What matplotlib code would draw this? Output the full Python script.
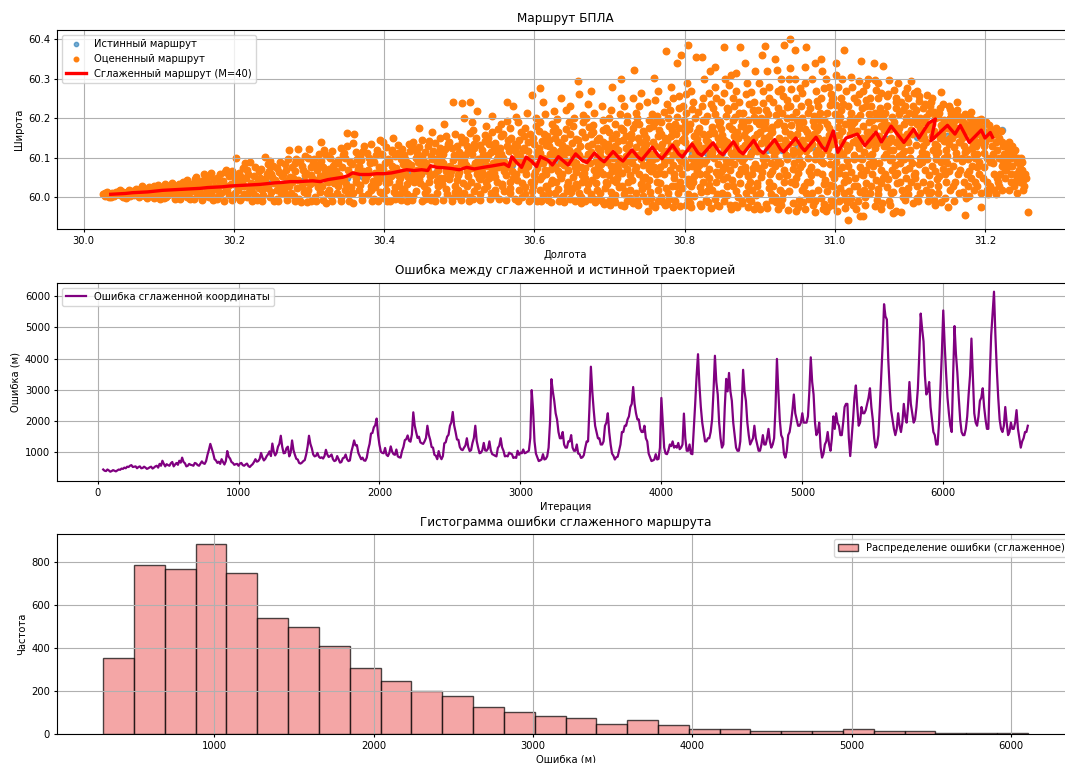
import numpy as np
import matplotlib
matplotlib.use('Agg')
import matplotlib.pyplot as plt

plt.rcParams.update({
    'font.size': 7.2,
    'xtick.major.size': 2.5, 'ytick.major.size': 2.5,
    'xtick.major.pad': 2.5, 'ytick.major.pad': 2.5,
    'axes.labelpad': 2.9,
})

# --- оценённый маршрут: (долгота-30, широта-60) в тысячных долях градуса ---
estimated_pts = [
    (26,9),(28,4),(31,13),(33,7),(29,11),(34,2),
    (36,6),(38,12),(41,3),(43,15),(44,9),(37,1),
    (46,10),(47,17),(49,5),(52,13),(53,1),(48,19),
    (56,8),(58,14),(61,20),(62,3),(64,11),(57,-1),
    (66,16),(67,6),(69,22),(71,11),(73,0),(74,18),
    (76,9),(78,24),(79,14),(81,3),(83,19),(84,-2),(77,28),
    (86,13),(87,26),(89,5),(92,18),(93,-1),(94,30),(88,9),
    (96,20),(97,4),(99,31),(101,12),(102,-3),(103,25),(104,16),(98,8),
    (106,22),(107,-2),(108,34),(111,14),(112,6),(113,28),(114,18),(109,0),
    (116,26),(117,9),(118,37),(121,-4),(122,17),(123,30),(124,3),(119,21),
    (126,14),(127,33),(128,-3),(131,24),(132,40),(133,8),(134,19),(129,29),
    (136,27),(137,2),(138,44),(141,15),(142,-5),(143,35),(144,22),(139,10),
    (146,31),(147,-4),(148,46),(151,19),(152,6),(153,38),(154,25),(149,13),(150,52),
    (156,12),(157,42),(158,-6),(161,28),(162,50),(163,4),(164,20),(159,34),(160,58),
    (166,36),(167,1),(168,55),(171,18),(172,-7),(173,45),(174,26),(169,9),(170,62),
    (176,22),(177,48),(178,-5),(181,33),(182,60),(183,11),(184,40),(179,3),(180,28),
    (186,42),(187,-8),(188,65),(191,16),(192,30),(193,53),(194,6),(189,24),(190,70),
    (196,35),(197,-6),(198,68),(201,12),(202,46),(203,100),(204,26),(199,57),(200,2),(205,38),
    (206,19),(207,62),(208,-7),(211,41),(212,75),(213,8),(214,30),(209,52),(210,-1),(215,86),
    (216,48),(217,0),(218,70),(221,22),(222,89),(223,36),(224,-8),(219,58),(220,14),(225,30),
    (226,10),(227,55),(228,78),(231,-6),(232,42),(233,25),(234,66),(229,4),(230,33),(235,50),
    (236,72),(237,18),(238,-9),(241,47),(242,103),(243,30),(244,60),(239,7),(240,38),(245,84),
    (246,24),(247,66),(248,2),(251,52),(252,80),(253,-8),(254,36),(249,15),(250,58),(255,44),(248,92),
    (256,40),(257,-5),(258,74),(261,28),(262,90),(263,10),(264,55),(259,-10),(260,64),(265,34),(258,18),
    (266,60),(267,20),(268,84),(271,-7),(272,45),(273,120),(274,30),(269,70),(270,5),(275,52),(272,96),
    (276,12),(277,78),(278,38),(281,-9),(282,66),(283,98),(284,25),(279,50),(280,3),(285,123),(281,86),
    (286,44),(287,-4),(288,92),(291,30),(292,70),(293,14),(294,56),(289,-11),(290,80),(295,38),(294,104),
    (296,62),(297,8),(298,100),(301,34),(302,-8),(303,76),(304,48),(299,20),(300,123),(305,88),(302,56),(297,-12),
    (306,40),(307,96),(308,2),(311,70),(312,26),(313,110),(314,54),(309,-10),(310,82),(315,14),(312,44),(316,141),
    (316,92),(317,30),(318,-6),(321,64),(322,108),(323,46),(324,10),(319,78),(320,120),(325,38),(322,-13),(318,55),
    (326,20),(327,72),(328,100),(331,-9),(332,58),(333,36),(334,88),(329,4),(330,118),(335,48),(332,80),(328,62),
    (336,66),(337,12),(338,94),(341,42),(342,-10),(343,126),(344,78),(339,28),(340,56),(345,106),(342,2),(338,86),
    (346,46),(347,112),(348,18),(351,162),(352,70),(353,-8),(354,90),(349,34),(350,130),(355,58),(352,8),(348,100),
    (356,26),(357,84),(358,-14),(361,60),(362,116),(363,40),(364,98),(359,10),(360,160),(365,72),(362,50),(358,138),
    (366,80),(367,20),(368,104),(371,-6),(372,66),(373,130),(374,44),(369,94),(370,4),(375,56),(372,118),(368,32),
    (376,52),(377,112),(378,8),(381,86),(382,136),(383,30),(384,-9),(379,70),(380,100),(385,42),(382,18),(378,60),
    (386,90),(387,-4),(388,62),(391,120),(392,38),(393,78),(394,14),(389,106),(390,50),(395,144),(392,-10),(388,26),
    (396,64),(397,110),(398,6),(401,86),(402,36),(403,128),(404,-8),(399,72),(400,48),(405,98),(402,20),(398,140),(404,58),(400,-2),
    (406,40),(407,92),(408,-10),(411,120),(412,68),(413,14),(414,104),(409,54),(410,80),(415,26),(412,150),(408,62),(414,-4),(410,114),
    (416,74),(417,2),(418,132),(421,48),(422,96),(423,-7),(424,64),(419,112),(420,30),(425,84),(422,10),(418,56),(424,122),(420,40),
    (426,22),(427,108),(428,60),(431,-9),(432,88),(433,136),(434,44),(429,74),(430,8),(435,118),(432,52),(428,96),(434,-2),(430,34),
    (436,82),(437,-6),(438,124),(441,56),(442,100),(443,16),(444,70),(439,140),(440,38),(445,90),(446,175),(438,4),(444,112),(440,62),
    (446,46),(447,128),(448,72),(451,-8),(452,94),(453,28),(454,114),(449,60),(450,146),(455,10),(452,80),(448,36),(454,-3),(450,104),
    (456,88),(457,18),(458,130),(461,54),(462,104),(463,-6),(464,165),(459,76),(460,40),(465,118),(462,2),(458,66),(464,96),(460,142),
    (466,60),(467,-4),(468,138),(471,84),(472,30),(473,112),(474,50),(469,96),(470,12),(475,150),(472,70),(468,-9),(474,124),(470,42),
    (476,100),(477,34),(478,-7),(481,122),(482,68),(483,154),(484,8),(479,86),(480,50),(485,134),(482,22),(478,110),(484,76),(480,185),
    (486,46),(487,140),(488,80),(491,-2),(492,240),(493,106),(494,28),(489,66),(490,126),(495,14),(492,94),(488,56),(494,160),(490,-9),
    (496,74),(497,130),(498,20),(501,100),(502,-6),(503,152),(504,238),(499,56),(500,116),(505,36),(502,86),(498,4),(504,140),(500,64),(506,108),(497,44),
    (506,92),(507,12),(508,144),(511,68),(512,118),(513,-8),(514,242),(509,82),(510,30),(515,162),(512,54),(508,104),(514,2),(510,130),(516,74),(507,200),
    (516,40),(517,110),(518,-4),(521,88),(522,150),(523,218),(524,60),(519,124),(520,16),(525,98),(522,72),(518,170),(524,28),(520,136),(526,50),(517,190),
    (526,84),(527,-7),(528,132),(531,56),(532,106),(533,22),(534,158),(529,74),(530,120),(535,38),(532,94),(528,8),(534,142),(530,64),(536,180),(527,46),
    (536,98),(537,30),(538,150),(541,-5),(542,116),(543,70),(544,205),(539,134),(540,48),(545,88),(542,12),(538,106),(544,166),(540,58),(546,128),(537,80),
    (546,62),(547,138),(548,20),(551,102),(552,172),(553,-3),(554,84),(549,118),(550,40),(555,154),(552,76),(548,6),(554,126),(550,96),(556,185),(547,52),
    (556,110),(557,34),(558,160),(561,74),(562,-6),(563,242),(564,130),(559,90),(560,16),(565,146),(562,56),(558,100),(564,192),(560,66),(566,118),(557,28),
    (566,82),(567,176),(568,10),(571,124),(572,48),(573,98),(574,-4),(569,150),(570,66),(575,114),(572,230),(568,38),(574,136),(570,88),(576,204),(567,24),
    (576,58),(577,130),(578,-9),(581,104),(582,166),(583,36),(584,88),(579,146),(580,18),(585,120),(582,72),(578,190),(584,2),(580,96),(586,156),(577,44),
    (586,126),(587,26),(588,176),(591,80),(592,140),(593,-10),(594,100),(589,60),(590,214),(595,40),(592,118),(588,8),(594,160),(590,90),(597,259),(587,70),
    (596,92),(597,16),(598,150),(601,64),(602,180),(603,-8),(604,116),(599,40),(600,136),(605,84),(602,200),(598,28),(604,104),(600,56),(606,168),(597,-2),(608,276),(603,74),
    (606,124),(607,46),(608,190),(611,6),(612,100),(613,160),(614,70),(609,-10),(610,142),(615,30),(612,86),(608,112),(614,210),(610,54),(616,132),(607,18),(612,240),(615,96),
    (616,60),(617,154),(618,-6),(621,110),(622,36),(623,186),(624,84),(619,130),(620,12),(625,168),(622,72),(618,96),(624,44),(620,144),(626,218),(617,24),(622,-12),(625,120),
    (626,100),(627,10),(628,176),(631,66),(632,140),(633,-8),(634,118),(629,40),(630,198),(635,86),(632,22),(628,150),(634,56),(630,108),(636,250),(627,78),(632,164),(635,-2),
    (636,48),(637,132),(638,4),(641,94),(642,172),(643,30),(644,114),(639,-12),(640,150),(645,70),(642,222),(638,104),(644,16),(640,82),(646,190),(637,60),(642,126),(645,38),
    (646,120),(647,-4),(648,160),(651,52),(652,100),(653,200),(654,76),(649,14),(650,138),(655,34),(652,180),(648,90),(654,-10),(650,112),(656,64),(647,230),(652,24),(655,148),
    (656,86),(657,28),(658,293),(661,130),(662,-14),(663,166),(664,56),(659,106),(660,12),(665,190),(662,76),(658,144),(664,40),(660,260),(666,96),(657,118),(662,0),(665,208),
    (666,62),(667,152),(668,-8),(671,110),(672,34),(673,178),(674,88),(669,200),(670,20),(675,270),(672,130),(668,48),(674,-3),(670,96),(676,160),(667,74),(672,236),(675,8),
    (676,116),(677,44),(678,184),(681,-12),(682,92),(683,146),(684,20),(679,70),(680,214),(685,126),(682,56),(678,164),(684,100),(680,-4),(686,-3),(677,136),(682,36),(685,82),
    (686,150),(687,10),(688,104),(691,196),(692,60),(693,-16),(694,130),(689,84),(690,232),(695,40),(692,170),(688,118),(694,24),(690,-9),(696,96),(687,66),(692,140),(699,-9),
    (696,176),(697,34),(698,118),(701,-18),(702,80),(703,150),(704,280),(699,56),(700,200),(705,100),(702,14),(698,136),(704,66),(700,166),(706,-4),(697,90),(702,222),(705,44),(699,124),(703,2),
    (706,108),(707,-12),(708,186),(711,72),(712,142),(713,26),(714,96),(709,160),(710,48),(715,250),(712,120),(708,6),(714,210),(710,82),(716,-20),(707,130),(712,60),(715,176),(709,38),(713,100),
    (716,300),(717,62),(718,146),(721,16),(722,104),(723,190),(724,-10),(719,84),(720,230),(725,40),(722,126),(718,170),(724,72),(720,-22),(726,114),(717,28),(722,156),(725,92),(719,8),(723,206),
    (726,134),(727,20),(728,96),(731,176),(732,-14),(733,323),(734,70),(729,150),(730,44),(735,214),(732,110),(728,-2),(734,186),(730,86),(736,128),(727,56),(732,250),(735,10),(729,160),(733,102),
    (736,78),(737,200),(738,-18),(741,140),(742,34),(743,118),(744,168),(739,60),(740,232),(745,4),(742,96),(738,150),(744,46),(740,186),(746,124),(737,-6),(742,264),(745,82),(739,106),(743,22),
    (746,160),(747,52),(748,112),(751,-35),(752,196),(753,88),(754,14),(749,136),(750,240),(755,66),(752,176),(748,-10),(754,100),(750,30),(756,210),(747,122),(752,72),(755,-2),(749,150),(753,44),
    (756,94),(757,-20),(758,180),(759,302),(760,-24),(761,130),(762,58),(763,206),(764,20),(765,154),(757,110),(759,76),(761,246),(763,40),(765,-8),(758,140),(760,190),(762,100),(764,268),(766,62),
    (766,170),(767,36),(768,124),(771,-12),(772,216),(773,84),(774,150),(769,2),(770,104),(775,369),(772,58),(768,190),(774,-20),(770,136),(776,236),(767,76),(772,112),(775,24),(769,160),(773,96),
    (776,118),(777,-16),(778,200),(781,70),(782,156),(783,30),(784,-25),(779,180),(780,94),(785,250),(782,130),(778,12),(784,106),(780,220),(786,48),(777,144),(782,280),(785,82),(779,-4),(783,170),
    (786,60),(787,186),(788,138),(791,10),(792,100),(793,226),(794,-22),(789,160),(790,340),(795,360),(792,74),(788,120),(794,40),(790,204),(796,146),(787,-8),(792,256),(795,92),(789,28),(793,176),
    (796,112),(797,24),(798,230),(801,164),(802,-20),(803,76),(804,386),(799,196),(800,140),(805,46),(802,260),(798,96),(804,-6),(800,182),(806,124),(797,60),(802,212),(805,8),(799,150),(803,290),(801,88),(806,34),
    (806,172),(807,-14),(808,100),(811,240),(812,54),(813,136),(814,200),(809,-25),(810,80),(815,354),(812,156),(808,28),(814,114),(810,224),(816,64),(807,186),(812,4),(815,130),(809,270),(813,92),(811,40),(816,166),
    (816,148),(817,70),(818,216),(821,-16),(822,118),(823,354),(824,40),(819,176),(820,98),(825,250),(822,14),(818,134),(824,196),(820,58),(826,300),(817,104),(822,-22),(825,160),(819,82),(823,232),(821,26),(826,124),
    (826,86),(827,192),(828,-6),(831,140),(832,32),(833,264),(834,110),(829,60),(830,206),(835,-26),(832,160),(828,94),(834,320),(830,16),(836,178),(827,126),(832,48),(835,236),(829,144),(833,72),(831,-12),(836,104),
    (836,170),(837,20),(838,128),(841,278),(842,64),(843,-18),(844,196),(839,100),(840,330),(845,150),(842,40),(838,226),(844,84),(840,-4),(846,184),(837,116),(842,252),(845,56),(839,162),(843,8),(841,210),(846,136),
    (846,-22),(847,104),(848,174),(851,46),(852,381),(853,146),(854,80),(849,240),(850,12),(855,206),(852,122),(848,64),(854,300),(850,158),(856,28),(847,190),(852,-10),(855,94),(849,134),(853,264),(851,72),(856,226),
    (856,140),(857,52),(858,220),(861,-20),(862,112),(863,172),(864,30),(859,285),(860,90),(865,196),(862,-30),(858,128),(864,250),(860,70),(866,156),(857,6),(862,310),(865,104),(859,180),(863,44),(867,-18),(866,232),
    (866,84),(867,204),(868,16),(871,150),(872,60),(873,240),(874,381),(869,120),(870,-24),(875,180),(872,100),(868,270),(874,36),(870,164),(876,-8),(867,136),(872,212),(875,72),(869,315),(873,110),(871,2),(876,194),
    (876,126),(877,-14),(878,186),(881,76),(882,262),(883,148),(884,-25),(879,100),(880,340),(885,30),(882,170),(878,214),(884,54),(880,132),(886,236),(877,92),(882,10),(885,196),(879,158),(883,290),(881,66),(886,-4),
    (886,176),(887,40),(888,112),(891,222),(892,-28),(893,150),(894,84),(889,266),(890,20),(895,192),(892,128),(888,-10),(894,318),(890,60),(896,160),(887,104),(892,240),(895,6),(889,140),(893,204),(891,74),(896,36),
    (896,118),(897,-20),(898,220),(901,166),(902,52),(903,360),(904,96),(899,186),(900,12),(905,270),(902,138),(898,74),(904,238),(900,-30),(906,150),(897,30),(902,200),(905,108),(899,290),(903,64),(907,383),(906,176),
    (906,82),(907,196),(908,-16),(911,130),(912,250),(913,40),(914,172),(909,100),(910,318),(915,8),(912,156),(908,222),(914,60),(910,-26),(916,120),(907,188),(912,280),(915,86),(909,142),(913,24),(911,210),(916,-6),
    (916,164),(917,66),(918,242),(921,2),(922,118),(923,186),(924,-28),(919,140),(920,350),(925,92),(922,208),(918,30),(924,270),(920,126),(926,54),(917,178),(922,-12),(925,226),(919,104),(923,322),(921,80),(926,150),
    (926,190),(927,18),(928,130),(931,256),(932,386),(933,70),(934,168),(929,-20),(930,214),(935,106),(932,40),(928,300),(934,146),(930,-4),(936,228),(927,88),(932,180),(935,56),(929,274),(933,122),(931,10),(936,200),
    (936,98),(937,246),(938,-32),(941,160),(942,40),(943,204),(944,120),(939,300),(940,400),(945,72),(942,182),(938,136),(944,-14),(940,230),(947,372),(937,56),(942,274),(945,110),(939,16),(943,156),(941,326),(946,88),
    (946,140),(947,34),(948,216),(951,-24),(952,176),(953,96),(954,276),(949,50),(950,196),(955,128),(952,-6),(948,250),(954,76),(950,160),(956,20),(947,300),(952,114),(955,230),(949,-34),(953,186),(951,62),(956,146),
    (956,200),(957,84),(958,-12),(961,174),(962,381),(963,40),(964,240),(959,132),(960,330),(965,100),(962,12),(958,190),(964,150),(960,-30),(966,68),(957,264),(962,118),(965,214),(959,30),(963,166),(961,290),(966,-4),
    (966,124),(967,226),(968,56),(971,-20),(972,180),(973,340),(974,98),(969,150),(970,10),(975,270),(972,206),(968,76),(974,-36),(970,136),(976,244),(967,40),(972,160),(975,112),(969,300),(973,-8),(971,192),(976,64),
    (976,170),(977,18),(978,232),(981,110),(982,350),(983,60),(984,-28),(979,196),(980,134),(985,276),(982,-2),(978,150),(984,86),(980,214),(986,34),(977,120),(982,250),(985,-16),(979,178),(983,320),(981,92),(986,146),
    (986,196),(987,44),(988,300),(991,-24),(992,158),(993,84),(994,234),(989,120),(990,16),(995,260),(992,176),(988,-34),(994,104),(990,214),(996,60),(987,140),(992,280),(995,-6),(989,186),(993,32),(991,126),(996,246),
    (996,136),(997,-20),(998,250),(1001,90),(1002,339),(1003,-33),(1004,178),(999,50),(1000,210),(1005,120),(1002,10),(998,160),(1004,280),(1000,72),(1006,196),(997,30),(1002,234),(1005,-10),(999,146),(1003,104),(1001,310),(1006,62),
    (1006,158),(1007,24),(1008,222),(1011,110),(1012,372),(1013,-4),(1014,186),(1009,76),(1010,300),(1015,132),(1012,40),(1008,250),(1014,-26),(1010,168),(1016,94),(1007,204),(1012,12),(1015,270),(1009,140),(1013,56),(1011,236),(1016,-12),
    (1016,120),(1017,230),(1018,-56),(1021,176),(1022,64),(1023,280),(1024,140),(1019,16),(1020,198),(1025,96),(1022,305),(1018,44),(1024,-20),(1020,160),(1026,250),(1017,80),(1022,214),(1025,28),(1019,128),(1023,186),(1021,-2),(1026,106),
    (1026,190),(1027,50),(1028,146),(1031,-10),(1032,262),(1033,100),(1034,208),(1029,30),(1030,168),(1035,345),(1032,124),(1028,-30),(1034,76),(1030,240),(1036,150),(1033,-48),(1032,294),(1035,60),(1029,200),(1033,14),(1031,136),(1036,226),
    (1036,96),(1037,-47),(1038,180),(1041,246),(1042,36),(1043,150),(1044,300),(1039,116),(1040,0),(1045,210),(1042,70),(1038,270),(1044,132),(1040,-18),(1046,190),(1037,56),(1042,232),(1045,104),(1039,20),(1043,164),(1041,284),(1046,84),
    (1046,164),(1047,12),(1048,230),(1051,92),(1052,340),(1053,126),(1054,-22),(1049,196),(1050,60),(1055,272),(1052,150),(1048,30),(1054,214),(1050,110),(1056,-6),(1047,250),(1052,176),(1055,44),(1049,140),(1053,296),(1051,80),(1056,200),
    (1056,138),(1057,250),(1058,22),(1061,180),(1062,70),(1063,-14),(1064,333),(1059,156),(1060,226),(1065,102),(1062,-28),(1058,290),(1064,50),(1060,200),(1066,130),(1057,8),(1062,264),(1065,170),(1059,86),(1063,214),(1061,36),(1066,146),
    (1066,196),(1067,60),(1068,130),(1071,260),(1072,-8),(1073,172),(1074,94),(1069,230),(1070,26),(1075,150),(1072,296),(1068,110),(1074,-20),(1070,184),(1076,70),(1067,214),(1072,140),(1075,10),(1069,256),(1073,120),(1071,46),(1076,204),
    (1076,100),(1077,180),(1078,-40),(1081,140),(1082,240),(1083,36),(1084,166),(1079,272),(1080,82),(1085,210),(1082,-35),(1078,120),(1084,290),(1080,56),(1086,154),(1077,14),(1082,226),(1085,104),(1079,190),(1083,62),(1081,250),(1086,130),
    (1086,176),(1087,40),(1088,-37),(1091,220),(1092,118),(1093,264),(1094,70),(1089,152),(1090,18),(1095,200),(1092,96),(1088,240),(1094,-6),(1090,134),(1096,276),(1087,86),(1092,186),(1095,50),(1089,110),(1093,230),(1091,2),(1096,160),
    (1096,146),(1097,24),(1098,250),(1101,190),(1102,293),(1103,86),(1104,-15),(1099,212),(1100,120),(1105,56),(1102,170),(1098,8),(1104,230),(1100,100),(1106,264),(1097,140),(1102,40),(1105,196),(1099,74),(1103,160),
    (1106,210),(1107,62),(1108,132),(1111,-10),(1112,244),(1113,100),(1114,176),(1109,30),(1110,268),(1115,150),(1112,84),(1108,222),(1114,12),(1110,186),(1116,116),(1107,48),(1112,256),(1115,166),(1109,-2),(1113,200),
    (1116,90),(1117,226),(1118,160),(1121,20),(1122,140),(1123,258),(1124,-10),(1119,190),(1120,70),(1125,214),(1122,110),(1118,40),(1124,174),(1120,236),(1126,56),(1117,130),(1122,204),(1125,8),(1119,150),(1123,96),
    (1126,178),(1127,34),(1128,240),(1131,120),(1132,-6),(1133,200),(1134,66),(1129,156),(1130,250),(1135,96),(1132,216),(1128,14),(1134,136),(1130,186),(1136,46),(1127,230),(1132,168),(1135,110),(1129,80),(1133,-18),
    (1136,130),(1137,204),(1138,10),(1141,265),(1142,90),(1143,172),(1144,236),(1139,54),(1140,150),(1145,196),(1142,-12),(1138,116),(1144,72),(1140,226),(1146,142),(1137,30),(1142,184),(1145,100),(1139,214),(1143,160),
    (1146,190),(1147,60),(1148,120),(1151,-24),(1152,230),(1153,150),(1154,20),(1149,176),(1150,86),(1155,214),(1152,136),(1148,40),(1154,200),(1150,104),(1156,164),(1147,-2),(1152,68),(1155,186),(1149,144),(1153,224),
    (1156,150),(1157,28),(1158,212),(1161,100),(1162,176),(1163,240),(1164,58),(1159,128),(1160,196),(1165,10),(1162,160),(1158,80),(1164,206),(1160,40),(1166,140),(1157,184),(1162,112),(1165,168),(1159,-10),(1163,220),
    (1166,170),(1167,70),(1168,196),(1171,14),(1172,130),(1173,210),(1174,-45),(1169,150),(1170,92),(1175,180),(1172,40),(1168,160),(1174,116),(1170,204),(1176,60),(1167,140),(1172,188),(1175,-2),(1169,100),(1173,164),
    (1176,120),(1177,182),(1178,30),(1181,215),(1182,150),(1183,80),(1184,196),(1179,4),(1180,164),(1185,110),(1182,48),(1178,176),(1184,136),(1180,200),(1186,20),(1177,96),(1182,186),(1185,156),(1179,66),(1183,124),
    (1186,170),(1187,40),(1188,140),(1191,196),(1192,90),(1193,160),(1194,12),(1189,180),(1190,110),(1195,198),(1192,60),(1188,130),(1194,172),(1190,30),(1196,150),(1187,100),(1192,188),(1195,-24),(1189,76),(1193,140),
    (1196,176),(1197,50),(1198,130),(1201,190),(1202,100),(1203,20),(1204,160),(1199,76),(1200,140),(1205,184),(1202,40),(1198,112),(1204,9),(1200,166),(1206,90),
    (1206,150),(1207,30),(1208,170),(1211,110),(1212,60),(1213,160),(1214,9),(1209,130),(1210,86),(1215,140),(1212,20),(1208,100),(1214,176),(1216,50),
    (1216,120),(1217,40),(1218,150),(1221,169),(1222,80),(1223,20),(1224,130),(1219,100),(1220,60),(1225,110),(1222,140),(1218,30),(1224,90),(1226,70),
    (1226,100),(1227,50),(1228,130),(1231,80),(1232,20),(1233,110),(1234,60),(1229,90),(1230,120),(1235,40),(1232,140),(1228,70),(1236,131),(1234,100),
    (1236,80),(1237,110),(1238,40),(1241,60),(1242,90),(1243,11),(1244,100),(1239,30),(1240,120),(1245,70),(1242,50),(1246,85),(1248,60),(1249,89),
    (1247,40),(1249,70),(1251,43),(1252,30),(1253,60),(1250,20),(1257,-37),(1254,50),(1248,100),
]

# истинный маршрут (почти весь закрыт оранжевыми точками)
true_pts = [
    (35,8),(50,10),(70,12),(90,15),(110,18),(130,20),(150,23),(170,25),(190,28),(210,30),
    (230,33),(250,36),(270,38),(290,41),(310,43),(330,46),(350,50),(370,53),(390,56),(410,59),
    (430,62),(450,65),(470,68),(490,71),(510,74),(530,77),(550,80),(570,83),(590,85),(610,88),
    (630,90),(650,93),(670,95),(690,97),(710,99),(730,101),(750,103),(770,105),(790,107),(810,109),
    (830,111),(850,113),(870,115),(890,117),(910,119),(930,121),(950,124),(970,128),(990,132),(1010,137),
    (1030,141),(1050,145),(1070,148),(1090,150),(1110,152),(1130,154),(1150,156),(1170,158),(1190,161),(1200,163),
    (1210,166),(1215,168),(1222,170),
]

# сглаженный маршрут (M=40)
smooth_pts = [
    (36,8),(45,9),(55,10),(65,12),(75,13),(85,14),(95,16),(105,18),(115,19),(125,20),
    (135,21),(145,22),(155,23),(165,25),(175,26),(185,27),(195,29),(205,30),(215,31),(225,32),
    (235,33),(245,35),(255,37),(265,38),(275,40),(285,40),(295,41),(305,42),(315,40),(325,45),
    (335,48),(345,51),(352,55),(358,62),(368,58),(380,58),(390,60),(400,60),(410,62),(420,66),
    (430,70),(440,68),(450,70),(458,68),(462,80),(470,76),(480,75),(490,73),(500,70),(510,76),
    (520,72),(532,76),(545,80),(560,85),(566,78),(570,103),(576,89),(583,76),(589,102),(596,92),
    (603,78),(608,103),(618,94),(624,82),(632,103),(640,90),(645,82),(655,110),(663,95),(670,88),
    (680,112),(688,97),(693,90),(705,116),(713,99),(718,92),(730,120),(738,102),(743,95),(757,127),
    (765,106),(770,98),(784,132),(792,110),(797,102),(810,135),(818,112),(823,106),(838,138),(846,115),
    (851,108),(865,141),(873,117),(878,110),(892,144),(900,119),(905,112),(920,146),(928,121),(932,115),
    (948,150),(956,126),(960,118),(975,152),(983,128),(988,118),(998,168),(1004,114),(1015,150),(1030,160),
    (1040,131),(1055,165),(1062,140),(1075,180),(1092,139),(1105,172),(1112,150),(1125,188),(1134,198),(1128,143),
    (1150,182),(1160,160),(1167,182),(1179,139),(1195,170),(1200,150),(1207,164),(1210,152),
]

# ошибка сглаженной координаты, шаг 10 итераций начиная с 40
err_vals = [
    450,410,400,450,420,380,400,430,410,390,420,450,440,480,470,510,490,540,530,570,
    590,530,540,550,490,530,550,490,500,540,510,470,490,520,540,480,510,550,570,510,
    630,570,730,630,550,620,590,570,650,690,550,610,660,600,730,670,830,690,650,550,
    570,630,600,590,570,660,640,590,570,640,710,650,630,720,920,1080,1270,1120,970,780,
    740,660,700,630,780,690,610,720,1040,860,800,690,660,600,620,630,570,640,660,590,
    570,610,640,560,530,580,620,690,780,700,720,790,980,830,740,790,880,940,1030,880,
    1280,1020,900,980,1180,1270,1530,1180,970,980,1130,1180,870,990,1380,1070,920,790,770,660,
    640,670,720,750,930,1180,1530,1270,1130,930,870,890,980,860,820,840,800,880,1080,930,
    850,880,930,780,720,740,880,780,670,690,810,830,930,780,720,740,1010,1180,1380,1220,
    1230,980,880,780,830,740,730,830,1090,1270,1600,1620,1800,1870,2080,1560,1240,1020,980,970,
    1140,920,880,980,1190,1020,940,920,1090,870,840,830,1040,1170,1390,1420,1540,1370,1340,1570,
    2280,1860,1650,1460,1500,1320,1290,1270,1350,1460,1850,1560,1400,1170,1150,920,890,780,1040,870,
    780,880,1290,1320,1500,1560,1850,1960,2290,1860,1650,1410,1400,1170,1090,1070,1150,1220,1450,1170,
    1040,1070,1300,1460,1850,1360,1150,970,990,1070,1300,1060,1050,1120,1350,1060,940,920,890,870,
    1140,1210,1450,1160,1050,870,890,870,990,960,940,820,840,820,1050,920,990,970,1090,970,
    990,1020,1050,1460,2990,2350,1350,960,840,720,740,770,940,770,790,870,1150,1950,3340,2950,
    2650,2250,2050,1650,1450,1450,1650,1250,1150,1150,1350,1350,1550,1150,1050,1050,1250,960,940,820,
    840,910,1150,1350,1350,2450,3740,2950,2350,1850,1650,1450,1450,1250,1250,1350,1850,1950,2250,1650,
    1250,960,890,770,840,860,1050,1250,1650,1650,1850,1850,2050,2150,2450,2550,3090,2550,2250,2050,
    2050,1750,1650,1650,1850,1450,1350,960,840,720,740,770,940,770,790,1150,2740,1950,1150,960,
    940,1060,1250,1200,1350,1150,1200,1150,1300,1100,1150,1250,2240,1450,1050,1050,1250,960,940,1750,
    2550,3450,4140,3150,2450,1950,1650,1350,1350,1450,1450,1650,2050,2950,4090,3250,2850,1950,1450,1150,
    1250,2450,3350,2950,3540,2950,2650,1950,1550,1150,1050,1050,1350,2450,3640,2950,2650,1950,1550,1250,
    1350,1450,1850,1450,1250,1050,1050,1250,1550,1250,1250,1450,1750,1350,1150,1250,1450,2450,3990,2950,
    2050,1550,1450,950,830,1050,1550,1650,1950,2350,2850,2250,2050,1850,1850,1950,2250,1950,1950,1950,
    2150,2950,4040,3250,2850,1950,1550,1650,1950,1150,830,950,1250,1350,1650,1250,1050,1450,2150,1750,
    2250,1950,1850,1550,1550,1950,2450,2550,2550,1450,880,1450,2050,2750,3140,2450,1850,1950,2450,2250,
    2250,2350,2550,2750,3050,2450,2050,1450,1150,1250,1550,2450,3450,4450,5740,5350,5250,3950,3050,2350,
    2050,1750,1550,1750,2250,1850,1650,1950,2550,2150,1950,2450,3250,2550,2250,1950,2050,2450,3050,4150,
    5440,4950,4550,3450,2850,2950,3250,2450,2050,1650,1550,1250,1250,1950,3050,4150,5540,4450,3550,2750,
    2250,1850,1650,3450,5040,4150,3550,2750,2050,1650,1550,1550,1750,2150,2850,3450,4640,3450,2250,1950,
    1850,2150,2650,2750,3050,2450,2050,1750,1750,3450,4740,5450,6140,4750,3650,2750,2050,1750,1650,1850,
    2450,1950,1550,1650,1950,1750,1750,1950,2350,1750,1450,1150,1350,1450,1650,1650,1850,
]

# гистограмма: 30 бинов от 303 до 6106 м
hist_counts = [354, 785, 764, 883, 746, 537, 497, 407, 306, 248,
               198, 176, 125, 104, 82, 73, 45, 63, 43, 22,
               22, 14, 14, 14, 22, 14, 14, 5, 5, 5]
hist_min, hist_max = 303, 6106

fig = plt.figure(figsize=(10.65, 7.63), dpi=100)
ax1 = fig.add_axes([0.0535, 0.7003, 0.955, 0.2604])
ax2 = fig.add_axes([0.0535, 0.370, 0.955, 0.2595])
ax3 = fig.add_axes([0.0535, 0.038, 0.955, 0.2617])

# 1. маршрут
tr = np.array(true_pts) / 1000
es = np.array(estimated_pts) / 1000
sm = np.array(smooth_pts) / 1000
ax1.scatter(30 + tr[:, 0], 60 + tr[:, 1], s=20, color='C0', alpha=0.6, label='Истинный маршрут')
ax1.scatter(30 + es[:, 0], 60 + es[:, 1], s=22, color='C1', label='Оцененный маршрут')
ax1.plot(30 + sm[:, 0], 60 + sm[:, 1], color='red', lw=2.4, label='Сглаженный маршрут (M=40)')
ax1.set_title('Маршрут БПЛА')
ax1.set_xlabel('Долгота')
ax1.set_ylabel('Широта')
ax1.legend(loc='upper left', markerscale=0.7)
ax1.grid(True)

# 2. ошибка по итерациям
iters = 40 + 10 * np.arange(len(err_vals))
ax2.plot(iters, err_vals, color='purple', lw=1.6, label='Ошибка сглаженной координаты')
ax2.set_title('Ошибка между сглаженной и истинной траекторией')
ax2.set_xlabel('Итерация')
ax2.set_ylabel('Ошибка (м)')
ax2.legend(loc='upper left')
ax2.grid(True)

# 3. гистограмма
edges = np.linspace(hist_min, hist_max, len(hist_counts) + 1)
ax3.bar(edges[:-1], hist_counts, width=np.diff(edges), align='edge',
        color='lightcoral', edgecolor='black', alpha=0.7,
        label='Распределение ошибки (сглаженное)')
ax3.set_title('Гистограмма ошибки сглаженного маршрута')
ax3.set_xlabel('Ошибка (м)')
ax3.set_ylabel('Частота')
ax3.legend(loc='upper right')
ax3.grid(True)

fig.savefig('out.png', dpi=100)
